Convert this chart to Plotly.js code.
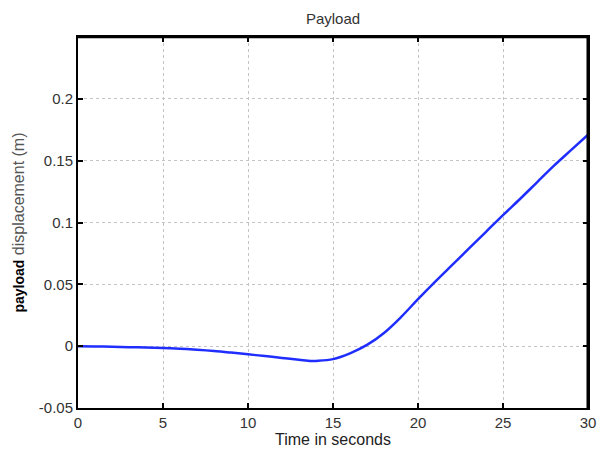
<!DOCTYPE html>
<html>
<head>
<meta charset="utf-8">
<script src="https://cdn.plot.ly/plotly-3.0.1.min.js"></script>
<style>html,body{margin:0;padding:0;background:#fff;overflow:hidden;}#chart{width:600px;height:452px;}</style>
</head>
<body>
<div id="chart"></div>
<script>
const timeSeconds = [0,1,2,3,4,5,6,7,8,9,10,11,12,13,13.7,14,15,16,17,18,19,20,21,22,23,24,25,26,27,28,29,30];
const displacement = [0,-0.0002,-0.0005,-0.0008,-0.0011,-0.0015,-0.0021,-0.0029,-0.0039,-0.0052,-0.0066,-0.008,-0.0095,-0.011,-0.012,-0.0119,-0.0105,-0.0058,0.001,0.0107,0.0235,0.038,0.052,0.0655,0.079,0.0925,0.106,0.119,0.1325,0.146,0.1585,0.171];
const xTicks = [0,5,10,15,20,25,30];
const yTicks = [-0.05,0,0.05,0.1,0.15,0.2];
const yTickLabels = ["-0.05","0","0.05","0.1","0.15","0.2"];
const xRange = [0, 30];
const yRange = [-0.05, 0.25];

const FONT = 'Liberation Sans, Arial, sans-serif';
const axisCommon = {
  showline: true, linecolor: '#000', linewidth: 2, mirror: 'ticks',
  ticks: 'inside', ticklen: 5, tickwidth: 2, tickcolor: '#000',
  showgrid: true, gridcolor: '#c4c4c4', griddash: '3px,3px', gridwidth: 1,
  zeroline: false,
  tickfont: {family: FONT, size: 15, color: '#333'}
};

Plotly.newPlot('chart', [
  {x: timeSeconds, y: displacement, type: 'scatter', mode: 'lines',
   line: {color: '#1f2eff', width: 2.5, shape: 'spline', smoothing: 1}}
], {
  width: 600, height: 452,
  margin: {l: 78, r: 12, t: 37, b: 44},
  paper_bgcolor: '#fff', plot_bgcolor: '#fff',
  showlegend: false,
  title: {text: 'Payload', x: 0.555, xanchor: 'center', y: 0.958, yanchor: 'middle',
    font: {family: FONT, size: 15, color: '#333'}},
  shapes: [
    {type: 'line', xref: 'paper', yref: 'paper', x0: 0, x1: 1, y0: 0.999, y1: 0.999, line: {color: '#000', width: 2}, layer: 'above'},
    {type: 'line', xref: 'paper', yref: 'paper', x0: 0.999, x1: 0.999, y0: 0, y1: 1, line: {color: '#000', width: 2}, layer: 'above'}
  ],
  xaxis: Object.assign({}, axisCommon, {
    range: xRange, tickvals: xTicks,
    title: {text: 'Time in seconds', standoff: 3,
      font: {family: FONT, size: 16, color: '#222'}}
  }),
  yaxis: Object.assign({}, axisCommon, {
    range: yRange, tickvals: yTicks, ticktext: yTickLabels,
    title: {text: '<b><span style="color:#000;font-size:14px">payload</span></b> displacement (m)', standoff: 10,
      font: {family: FONT, size: 16, color: '#555'}}
  })
}, {displayModeBar: false, responsive: false});
</script>
</body>
</html>
